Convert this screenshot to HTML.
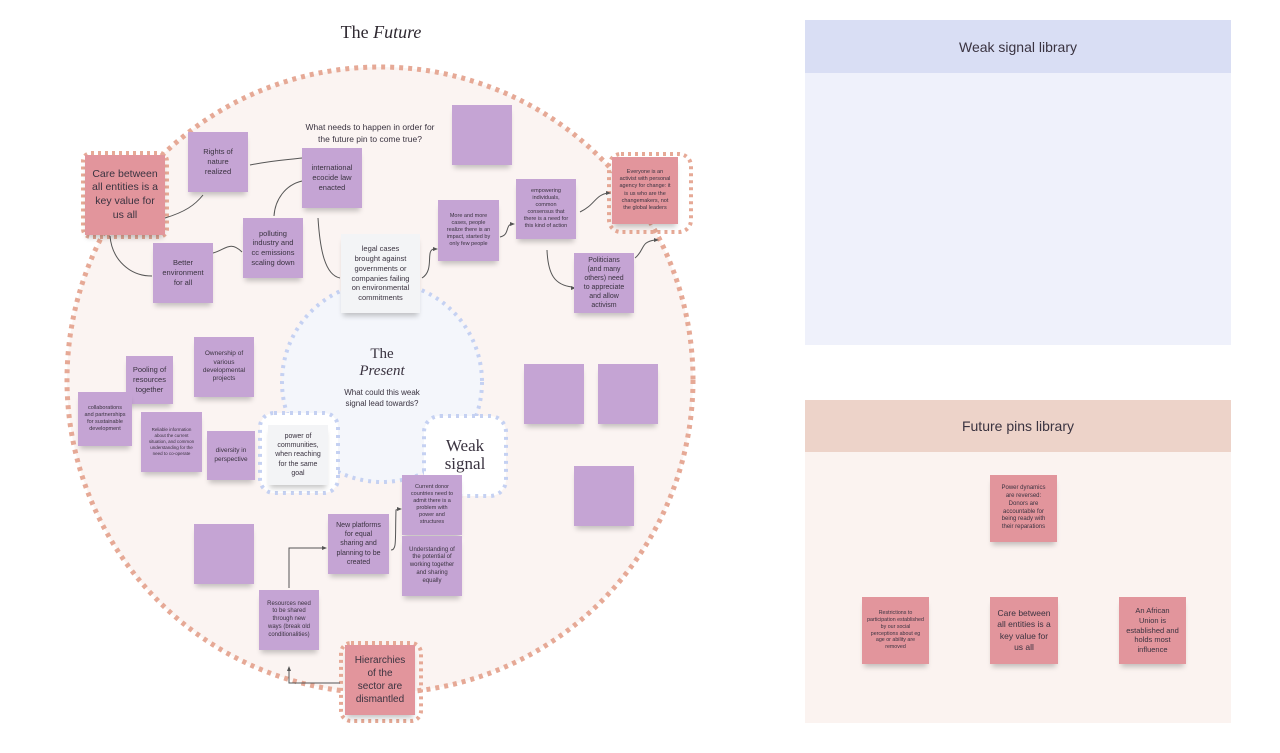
<!DOCTYPE html>
<html><head><meta charset="utf-8"><style>
body{margin:0;width:1280px;height:753px;background:#fff;position:relative;overflow:hidden;font-family:"Liberation Sans",sans-serif;color:#3a3340}
.s{position:absolute;background:#c5a4d4;box-shadow:0 5px 5px -2px rgba(0,0,0,.22);display:flex;align-items:center;justify-content:center;text-align:center;line-height:1.3;box-sizing:border-box;padding:4px 7px;color:#3a3340}
.p{background:#e2959c}
.w{background:#f3f4f6}
.t{position:absolute;text-align:center}
.serif{font-family:"Liberation Serif",serif}
</style></head><body>
<div class="t serif" style="left:281px;top:22px;width:200px;font-size:18px;color:#2e2830">The <i>Future</i></div>
<svg width="1280" height="753" style="position:absolute;left:0;top:0">
<circle cx="380" cy="380" r="313" fill="#fbf4f2" stroke="#e6a996" stroke-width="5" stroke-dasharray="4 5"/>
<circle cx="382" cy="382" r="100" fill="#f4f6fb" stroke="#c5d1f2" stroke-width="4" stroke-dasharray="3 5"/>
<rect x="260" y="413" width="78" height="80" rx="14" fill="#fff" stroke="#c5d1f2" stroke-width="4" stroke-dasharray="3 5"/>
<rect x="424" y="416" width="82" height="80" rx="16" fill="#fff" stroke="#c5d1f2" stroke-width="4" stroke-dasharray="3 5"/>
<rect x="83" y="153" width="84" height="84" rx="8" fill="none" stroke="#e6a996" stroke-width="4" stroke-dasharray="3 4"/>
<rect x="609" y="154" width="82" height="78" rx="12" fill="none" stroke="#e6a996" stroke-width="4" stroke-dasharray="3 4"/>
<rect x="341" y="643" width="80" height="78" rx="10" fill="none" stroke="#e6a996" stroke-width="4" stroke-dasharray="3 4"/>
<g fill="none" stroke="#555" stroke-width="1">
<path d="M250 165 C275 160 285 160 302 158"/>
<path d="M165 218 C185 212 195 205 203 195"/>
<path d="M302 181 C285 185 275 200 274 216"/>
<path d="M242 252 C230 240 225 250 213 253"/>
<path d="M110 236 C112 260 130 276 152 276"/>
<path d="M318 218 C320 250 325 275 340 278"/>
<path d="M422 278 C435 270 425 250 434 249"/>
<path d="M500 237 C510 235 505 225 512 224"/>
<path d="M580 212 C595 205 595 195 608 193"/>
<path d="M547 250 C548 275 555 285 572 287"/>
<path d="M635 258 C645 250 640 242 655 240"/>
<path d="M391 550 C397 550 395 540 396 510 L399 509"/>
<path d="M289 588 L289 548 L323 548"/>
<path d="M340 683 L289 683 L289 670"/>
</g>
<g fill="#555">
<path d="M438 249 l-5 -2 v4z"/><path d="M515 224 l-5 -2 v4z"/><path d="M611 193 l-5 -2 v4z"/>
<path d="M576 288 l-5 -2 v4z"/><path d="M659 240 l-5 -2 v4z"/><path d="M402 509 l-5 -2 v4z"/>
<path d="M327 548 l-5 -2 v4z"/><path d="M289 666 l-2 5 h4z"/>
</g>
</svg>
<div class="t" style="left:300px;top:122px;width:140px;font-size:8.5px;line-height:1.4">What needs to happen in order for the future pin to come true?</div>
<div class="t serif" style="left:332px;top:346px;width:100px;font-size:15px;line-height:1.15">The<br><i>Present</i></div>
<div class="t" style="left:337px;top:387px;width:90px;font-size:8px;line-height:1.4">What could this weak signal lead towards?</div>
<div class="t serif" style="left:430px;top:437px;width:70px;font-size:17px;line-height:1.05">Weak<br>signal</div>

<div class="s p" style="left:85px;top:155px;width:80px;height:80px;font-size:10.5px">Care between all entities is a key value for us all</div>
<div class="s" style="left:188px;top:132px;width:60px;height:60px;font-size:7.5px">Rights of nature realized</div>
<div class="s" style="left:302px;top:148px;width:60px;height:60px;font-size:7.5px">international ecocide law enacted</div>
<div class="s" style="left:243px;top:218px;width:60px;height:60px;font-size:7.5px">polluting industry and cc emissions scaling down</div>
<div class="s" style="left:153px;top:243px;width:60px;height:60px;font-size:7.5px">Better environment for all</div>
<div class="s w" style="left:341px;top:234px;width:79px;height:79px;font-size:7.5px;padding:4px 8px">legal cases brought against governments or companies failing on environmental commitments</div>
<div class="s" style="left:452px;top:105px;width:60px;height:60px"></div>
<div class="s" style="left:438px;top:200px;width:61px;height:61px;font-size:5.5px">More and more cases, people realize there is an impact, started by only few people</div>
<div class="s" style="left:516px;top:179px;width:60px;height:60px;font-size:5.5px">empowering individuals, common consensus that there is a need for this kind of action</div>
<div class="s p" style="left:612px;top:157px;width:66px;height:67px;font-size:5.5px">Everyone is an activist with personal agency for change: it is us who are the changemakers, not the global leaders</div>
<div class="s" style="left:574px;top:253px;width:60px;height:60px;font-size:7px">Politicians (and many others) need to appreciate and allow activism</div>
<div class="s" style="left:194px;top:337px;width:60px;height:60px;font-size:6.5px">Ownership of various developmental projects</div>
<div class="s" style="left:126px;top:356px;width:47px;height:48px;font-size:7.5px;padding:3px">Pooling of resources together</div>
<div class="s" style="left:78px;top:392px;width:54px;height:54px;font-size:5.5px;padding:3px 5px">collaborations and partnerships for sustainable development</div>
<div class="s" style="left:141px;top:412px;width:61px;height:60px;font-size:4.5px">Reliable information about the current situation, and common understanding for the need to co-operate</div>
<div class="s" style="left:207px;top:431px;width:48px;height:49px;font-size:6.5px;padding:3px">diversity in perspective</div>
<div class="s w" style="left:268px;top:425px;width:60px;height:60px;font-size:7px;padding:3px 5px">power of communities, when reaching for the same goal</div>
<div class="s" style="left:524px;top:364px;width:60px;height:60px"></div>
<div class="s" style="left:598px;top:364px;width:60px;height:60px"></div>
<div class="s" style="left:574px;top:466px;width:60px;height:60px"></div>
<div class="s" style="left:194px;top:524px;width:60px;height:60px"></div>
<div class="s" style="left:402px;top:475px;width:60px;height:60px;font-size:5.5px">Current donor countries need to admit there is a problem with power and structures</div>
<div class="s" style="left:402px;top:536px;width:60px;height:60px;font-size:6px">Understanding of the potential of working together and sharing equally</div>
<div class="s" style="left:328px;top:514px;width:61px;height:60px;font-size:7px">New platforms for equal sharing and planning to be created</div>
<div class="s" style="left:259px;top:590px;width:60px;height:60px;font-size:6px">Resources need to be shared through new ways (break old conditionalities)</div>
<div class="s p" style="left:345px;top:645px;width:70px;height:70px;font-size:10px;padding:4px 8px">Hierarchies of the sector are dismantled</div>

<div style="position:absolute;left:805px;top:20px;width:426px;height:53px;background:#d9def4;display:flex;align-items:center;justify-content:center;font-size:14px">Weak signal library</div>
<div style="position:absolute;left:805px;top:73px;width:426px;height:272px;background:#eff1fb"></div>
<div style="position:absolute;left:805px;top:400px;width:426px;height:52px;background:#edd3c9;display:flex;align-items:center;justify-content:center;font-size:14px">Future pins library</div>
<div style="position:absolute;left:805px;top:452px;width:426px;height:271px;background:#fbf3f0"></div>
<div class="s p" style="left:990px;top:475px;width:67px;height:67px;font-size:6px">Power dynamics are reversed: Donors are accountable for being ready with their reparations</div>
<div class="s p" style="left:862px;top:597px;width:67px;height:67px;font-size:5.3px;padding:4px 5px">Restrictions to participation established by our social perceptions about eg age or ability are removed</div>
<div class="s p" style="left:990px;top:597px;width:68px;height:67px;font-size:8.5px">Care between all entities is a key value for us all</div>
<div class="s p" style="left:1119px;top:597px;width:67px;height:67px;font-size:7.5px">An African Union is established and holds most influence</div>
</body></html>
